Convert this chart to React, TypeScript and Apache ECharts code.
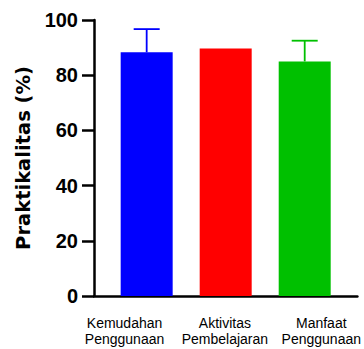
import React, { useEffect, useRef } from "react";
import * as echarts from "echarts";

const categories = ["Kemudahan\nPenggunaan", "Aktivitas\nPembelajaran", "Manfaat\nPenggunaan"];
const values = [88.3, 89.7, 85.0];
const errors = [8.4, 0, 7.5];
const colors = ["#0000FF", "#FF0000", "#00C000"];
const yTicks = { min: 0, max: 100, interval: 20 };
const yAxisTitle = "Praktikalitas (%)";
// where the category labels sit along the x axis (in category units)
const labelSlots = [-0.28, 0.99, 2.21];

const FONT = "Arial, 'Liberation Sans', Helvetica, sans-serif";
const TITLE_FONT = "'DejaVu Sans', Arial, sans-serif";

export default function App() {
  const ref = useRef<HTMLDivElement>(null);
  useEffect(() => {
    if (!ref.current) return;
    const chart = echarts.init(ref.current, undefined, { renderer: "svg" });
    const barData = values.map((v, i) => ({
      value: [i, v],
      itemStyle: { color: colors[i] },
    }));
    const errData = values.map((v, i) => [i, v, errors[i]]);
    chart.setOption({
      animation: false,
      grid: { left: 94, right: 4, top: 20, bottom: 53, containLabel: false },
      xAxis: {
        type: "value",
        min: -2 / 3,
        max: 8 / 3,
        splitLine: { show: false },
        axisLine: { show: true, onZero: false, lineStyle: { color: "#000", width: 2.5 } },
        axisTick: { show: false },
        axisLabel: {
          show: true,
          customValues: labelSlots,
          margin: 19,
          fontFamily: FONT,
          fontSize: 14,
          lineHeight: 16,
          color: "#000",
          align: "center",
          formatter: (v: number) => {
            let best = 0;
            labelSlots.forEach((s, i) => {
              if (Math.abs(s - v) < Math.abs(labelSlots[best] - v)) best = i;
            });
            return categories[best];
          },
        },
      },
      yAxis: {
        type: "value",
        min: yTicks.min,
        max: yTicks.max,
        interval: yTicks.interval,
        name: yAxisTitle,
        nameLocation: "middle",
        nameGap: 57,
        nameTextStyle: { fontFamily: TITLE_FONT, fontSize: 19.5, fontWeight: "bold", color: "#000" },
        splitLine: { show: false },
        axisLine: { show: true, onZero: false, lineStyle: { color: "#000", width: 2.5 } },
        axisTick: { show: true, length: 12, lineStyle: { color: "#000", width: 2.5 } },
        axisLabel: { fontFamily: FONT, fontSize: 20, fontWeight: "bold", color: "#000", margin: 16 },
      },
      series: [
        {
          type: "bar",
          data: barData,
          barWidth: 52,
          itemStyle: { borderWidth: 0 },
        },
        {
          type: "custom",
          data: errData,
          z: 3,
          renderItem: (params: any, api: any) => {
            const x = api.value(0);
            const v = api.value(1);
            const e = api.value(2);
            if (!e) return null;
            const base = api.coord([x, v]);
            const top = api.coord([x, v + e]);
            const color = colors[params.dataIndex];
            const style = { stroke: color, lineWidth: 1.8 };
            return {
              type: "group",
              children: [
                { type: "line", shape: { x1: base[0], y1: base[1], x2: top[0], y2: top[1] }, style },
                { type: "line", shape: { x1: top[0] - 13, y1: top[1], x2: top[0] + 13, y2: top[1] }, style },
              ],
            };
          },
        },
      ],
    });
    return () => chart.dispose();
  }, []);
  return (
    <div
      ref={ref}
      style={{ position: "fixed", left: 0, top: 0, width: 364, height: 349, background: "#fff" }}
    />
  );
}
